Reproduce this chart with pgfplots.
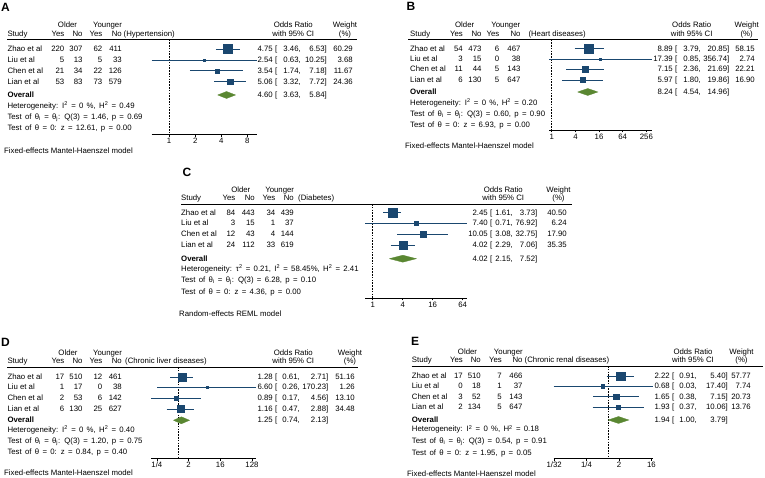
\documentclass[border=0pt]{standalone}
\usepackage{fontspec}
\setmainfont{Liberation Sans}
\usepackage{pgfplots}
\pgfplotsset{compat=1.18}
\definecolor{navy}{RGB}{26,71,111}
\definecolor{dgreen}{RGB}{90,135,50}
\newcommand{\fs}{\fontsize{7.8}{9}\selectfont}
\newcommand{\Lt}[3]{\node[anchor=mid west] at (#1,#2) {#3};}
\newcommand{\Rt}[3]{\node[anchor=mid east] at (#1,#2) {#3};}
\newcommand{\Ct}[3]{\node[anchor=mid] at (#1,#2) {#3};}
\newcommand{\St}[3]{\node[anchor=mid west] at (#1,#2) {\spaceskip=3.3pt plus 0pt minus 0pt\relax #3};}
\newcommand{\trow}[6]{\Lt{\tS}{#1}{#2}\Rt{\tA}{#1}{#3}\Rt{\tB}{#1}{#4}\Rt{\tC}{#1}{#5}\Rt{\tD}{#1}{#6}}
\newcommand{\orow}[5]{\Rt{\tR}{#1}{#2}\Lt{\tBr}{#1}{[}\Rt{\tL}{#1}{#3,}\Rt{\tU}{#1}{#4]}\Rt{\tW}{#1}{#5}}
\newcommand{\head}[2]{%
 \pgfmathsetmacro\ya{#1-14.5}\pgfmathsetmacro\yb{#1-6}%
 \Ct{\tOld}{\ya}{Older}\Ct{\tYng}{\ya}{Younger}%
 \Lt{\tS}{\yb}{Study}\Rt{\tA}{\yb}{Yes}\Rt{\tB}{\yb}{No}\Rt{\tC}{\yb}{Yes}\Rt{\tD}{\yb}{No}\Lt{\tDis}{\yb}{#2}%
 \Ct{\tOR}{\ya}{Odds Ratio}\Ct{\tOR}{\yb}{with 95\% CI}\Ct{\tWt}{\ya}{Weight}\Ct{\tWt}{\yb}{(\%)}%
 \draw[line width=0.8pt] (\tRa,#1) -- (\tRb,#1);}
\newcommand{\thij}{θ\textsubscript{i} = θ\textsubscript{j}}
\newcommand{\Isq}{I\textsuperscript{2}}
\newcommand{\Hsq}{H\textsuperscript{2}}
\pgfplotsset{
 fpax/.style={scale only axis, anchor=south west,
   axis x line*=bottom, axis y line=none, axis line style={-, line width=0.6pt},
   clip=false, tick align=outside, major tick length=2.5pt, minor xtick={},
   xtick style={line width=0.6pt, black}, xticklabel style={font=\fs, inner sep=1pt},
   /pgf/number format/assume math mode=true},
 ci/.style={navy, line width=0.9pt, mark=none, forget plot},
 sq/.style={navy, only marks, mark=square*, mark options={solid, line width=0.1pt, fill=navy, draw=navy}},
 dia/.style={fill=dgreen, draw=dgreen, line width=0.3pt, mark=none},
 dline/.style={black, line width=0.8pt, dash pattern=on 1.6pt off 1.2pt, mark=none},
}
\begin{document}
\begin{tikzpicture}
\path[use as bounding box] (0,0) rectangle (765pt,478pt);
\begin{scope}[x=1pt,y=-1pt,shift={(0pt,478pt)},every node/.style={inner sep=0pt,font=\fs}]
% panel labels
\node[anchor=mid west,font=\fontsize{12}{14}\selectfont\bfseries] at (1,8.7) {A};
\node[anchor=mid west,font=\fontsize{12}{14}\selectfont\bfseries] at (406.5,7.5) {B};
\node[anchor=mid west,font=\fontsize{12}{14}\selectfont\bfseries] at (182.5,174) {C};
\node[anchor=mid west,font=\fontsize{12}{14}\selectfont\bfseries] at (1,343.8) {D};
\node[anchor=mid west,font=\fontsize{12}{14}\selectfont\bfseries] at (411,343) {E};
% ---------- A
\def\tS{7.3}\def\tA{64.5}\def\tB{82.7}\def\tC{102.5}\def\tD{122}\def\tDis{123.5}
\def\tOld{67.5}\def\tYng{107.5}\def\tOR{293.3}\def\tWt{345}\def\tRa{7}\def\tRb{357}
\def\tR{273}\def\tBr{275}\def\tL{301}\def\tU{327}\def\tW{353}
\head{39.5}{(Hypertension)}
\trow{49}{Zhao et al}{220}{307}{62}{411}\orow{49}{4.75}{3.46}{6.53}{60.29}
\trow{60}{Liu et al}{5}{13}{5}{33}\orow{60}{2.54}{0.63}{10.25}{3.68}
\trow{70.7}{Chen et al}{21}{34}{22}{126}\orow{70.7}{3.54}{1.74}{7.18}{11.67}
\trow{81.5}{Lian et al}{53}{83}{73}{579}\orow{81.5}{5.06}{3.32}{7.72}{24.36}
\Lt{\tS}{95}{\textbf{Overall}}\orow{95}{4.60}{3.63}{5.84}{}
\St{\tS}{105.5}{Heterogeneity: \Isq{} = 0 \%, \Hsq{} = 0.49}
\St{\tS}{117}{Test of \thij: Q(3) = 1.46, p = 0.69}
\St{\tS}{128}{Test of θ = 0: z = 12.61, p = 0.00}
\Lt{4}{150.7}{Fixed-effects Mantel-Haenszel model}
% ---------- B
\def\tS{410}\def\tA{463}\def\tB{481.7}\def\tC{499.5}\def\tD{520.7}\def\tDis{528.3}
\def\tOld{464.7}\def\tYng{505.8}\def\tOR{691.7}\def\tWt{746.7}\def\tRa{408}\def\tRb{758}
\def\tR{673}\def\tBr{675}\def\tL{701}\def\tU{729.5}\def\tW{755}
\head{39.5}{(Heart diseases)}
\trow{48.5}{Zhao et al}{54}{473}{6}{467}\orow{48.5}{8.89}{3.79}{20.85}{58.15}
\trow{59}{Liu et al}{3}{15}{0}{38}\orow{59}{17.39}{0.85}{356.74}{2.74}
\trow{69.3}{Chen et al}{11}{44}{5}{143}\orow{69.3}{7.15}{2.36}{21.69}{22.21}
\trow{80}{Lian et al}{6}{130}{5}{647}\orow{80}{5.97}{1.80}{19.86}{16.90}
\Lt{\tS}{92}{\textbf{Overall}}\orow{92}{8.24}{4.54}{14.96}{}
\St{\tS}{102.7}{Heterogeneity: \Isq{} = 0 \%, \Hsq{} = 0.20}
\St{\tS}{113.5}{Test of \thij: Q(3) = 0.60, p = 0.90}
\St{\tS}{124.7}{Test of θ = 0: z = 6.93, p = 0.00}
\Lt{405}{146}{Fixed-effects Mantel-Haenszel model}
% ---------- C
\def\tS{181}\def\tA{235.5}\def\tB{255}\def\tC{275.5}\def\tD{294}\def\tDis{298}
\def\tOld{240.8}\def\tYng{279.7}\def\tOR{503.3}\def\tWt{558.5}\def\tRa{181}\def\tRb{572}
\def\tR{488}\def\tBr{490}\def\tL{513}\def\tU{537.5}\def\tW{567}
\head{204}{(Diabetes)}
\trow{212.5}{Zhao et al}{84}{443}{34}{439}\orow{212.5}{2.45}{1.61}{3.73}{40.50}
\trow{223}{Liu et al}{3}{15}{1}{37}\orow{223}{7.40}{0.71}{76.92}{6.24}
\trow{234}{Chen et al}{12}{43}{4}{144}\orow{234}{10.05}{3.08}{32.75}{17.90}
\trow{245.3}{Lian et al}{24}{112}{33}{619}\orow{245.3}{4.02}{2.29}{7.06}{35.35}
\Lt{\tS}{258.7}{\textbf{Overall}}\orow{258.7}{4.02}{2.15}{7.52}{}
\St{\tS}{268.7}{Heterogeneity: τ\textsuperscript{2} = 0.21, \Isq{} = 58.45\%, \Hsq{} = 2.41}
\St{\tS}{280}{Test of \thij: Q(3) = 6.28, p = 0.10}
\St{\tS}{291.8}{Test of θ = 0: z = 4.36, p = 0.00}
\Lt{179}{314}{Random-effects REML model}
% ---------- D
\def\tS{7.3}\def\tA{64.5}\def\tB{82.7}\def\tC{102.5}\def\tD{122}\def\tDis{125}
\def\tOld{68}\def\tYng{107.5}\def\tOR{293.3}\def\tWt{350}\def\tRa{7}\def\tRb{358}
\def\tR{273}\def\tBr{275}\def\tL{300}\def\tU{328.5}\def\tW{355}
\head{367}{(Chronic liver diseases)}
\trow{377}{Zhao et al}{17}{510}{12}{461}\orow{377}{1.28}{0.61}{2.71}{51.16}
\trow{387.3}{Liu et al}{1}{17}{0}{38}\orow{387.3}{6.60}{0.26}{170.23}{1.26}
\trow{398.2}{Chen et al}{2}{53}{6}{142}\orow{398.2}{0.89}{0.17}{4.56}{13.10}
\trow{409}{Lian et al}{6}{130}{25}{627}\orow{409}{1.16}{0.47}{2.88}{34.48}
\Lt{\tS}{420.3}{\textbf{Overall}}\orow{420.3}{1.25}{0.74}{2.13}{}
\St{\tS}{430}{Heterogeneity: \Isq{} = 0 \%, \Hsq{} = 0.40}
\St{\tS}{440.7}{Test of \thij: Q(3) = 1.20, p = 0.75}
\St{\tS}{451.7}{Test of θ = 0: z = 0.84, p = 0.40}
\Lt{4}{473}{Fixed-effects Mantel-Haenszel model}
% ---------- E
\def\tS{411.7}\def\tA{463}\def\tB{481}\def\tC{502}\def\tD{522.7}\def\tDis{524.5}
\def\tOld{467.5}\def\tYng{508.3}\def\tOR{693}\def\tWt{741.5}\def\tRa{411.7}\def\tRb{763}
\def\tR{670}\def\tBr{672}\def\tL{697}\def\tU{728}\def\tW{751}
\head{366}{(Chronic renal diseases)}
\trow{376}{Zhao et al}{17}{510}{7}{466}\orow{376}{2.22}{0.91}{5.40}{57.77}
\trow{386}{Liu et al}{0}{18}{1}{37}\orow{386}{0.68}{0.03}{17.40}{7.74}
\trow{396.5}{Chen et al}{3}{52}{5}{143}\orow{396.5}{1.65}{0.38}{7.15}{20.73}
\trow{407.2}{Lian et al}{2}{134}{5}{647}\orow{407.2}{1.93}{0.37}{10.06}{13.76}
\Lt{\tS}{420}{\textbf{Overall}}\orow{420}{1.94}{1.00}{3.79}{}
\St{\tS}{429.3}{Heterogeneity: \Isq{} = 0 \%, \Hsq{} = 0.18}
\St{\tS}{440.7}{Test of \thij: Q(3) = 0.54, p = 0.91}
\St{\tS}{452.5}{Test of θ = 0: z = 1.95, p = 0.05}
\Lt{407}{473.5}{Fixed-effects Mantel-Haenszel model}
\end{scope}
% ================= AXES
% A
\begin{axis}[fpax, xmode=log, log basis x=2, at={(151.7pt,343.5pt)}, width=105pt, height=95pt,
  xmin=0.63, xmax=10.25, ymin=-134.5, ymax=-39.5,
  xtick={1,2,4,8}, xticklabels={1,2,4,8}]
\addplot[dline] coordinates {(1,-39.5) (1,-134.5)};
\addplot[ci] coordinates {(3.46,-49) (6.53,-49)};
\addplot[sq, mark size=4.5] coordinates {(4.75,-49)};
\addplot[ci] coordinates {(0.63,-60) (10.25,-60)};
\addplot[sq, mark size=1.1] coordinates {(2.54,-60)};
\addplot[ci] coordinates {(1.74,-70.7) (7.18,-70.7)};
\addplot[sq, mark size=2.0] coordinates {(3.54,-70.7)};
\addplot[ci] coordinates {(3.32,-81.5) (7.72,-81.5)};
\addplot[sq, mark size=2.86] coordinates {(5.06,-81.5)};
\addplot[dia] coordinates {(3.63,-95) (4.60,-91.5) (5.84,-95) (4.60,-98.5) (3.63,-95)};
\end{axis}
% B
\begin{axis}[fpax, xmode=log, log basis x=2, at={(549pt,348pt)}, width=103pt, height=90.5pt,
  xmin=0.85, xmax=356.74, ymin=-130, ymax=-39.5,
  xtick={1,4,16,64,256}, xticklabels={1,4,16,64,256}]
\addplot[dline] coordinates {(1,-39.5) (1,-130)};
\addplot[ci] coordinates {(3.79,-48.5) (20.85,-48.5)};
\addplot[sq, mark size=4.5] coordinates {(8.89,-48.5)};
\addplot[ci] coordinates {(0.85,-59) (356.74,-59)};
\addplot[sq, mark size=1.0] coordinates {(17.39,-59)};
\addplot[ci] coordinates {(2.36,-69.3) (21.69,-69.3)};
\addplot[sq, mark size=2.8] coordinates {(7.15,-69.3)};
\addplot[ci] coordinates {(1.80,-80) (19.86,-80)};
\addplot[sq, mark size=2.45] coordinates {(5.97,-80)};
\addplot[dia] coordinates {(4.54,-92) (8.24,-88.5) (14.96,-92) (8.24,-95.5) (4.54,-92)};
\end{axis}
% C
\begin{axis}[fpax, xmode=log, log basis x=2, at={(365.3pt,180pt)}, width=101.4pt, height=94pt,
  xmin=0.71, xmax=76.92, ymin=-298, ymax=-204,
  xtick={1,4,16,64}, xticklabels={1,4,16,64}]
\addplot[dline] coordinates {(1,-204) (1,-298)};
\addplot[ci] coordinates {(1.61,-212.5) (3.73,-212.5)};
\addplot[sq, mark size=4.5] coordinates {(2.45,-212.5)};
\addplot[ci] coordinates {(0.71,-223) (76.92,-223)};
\addplot[sq, mark size=1.8] coordinates {(7.40,-223)};
\addplot[ci] coordinates {(3.08,-234) (32.75,-234)};
\addplot[sq, mark size=3.0] coordinates {(10.05,-234)};
\addplot[ci] coordinates {(2.29,-245.3) (7.06,-245.3)};
\addplot[sq, mark size=4.2] coordinates {(4.02,-245.3)};
\addplot[dia] coordinates {(2.15,-258.7) (4.02,-255.2) (7.52,-258.7) (4.02,-262.2) (2.15,-258.7)};
\end{axis}
% D
\begin{axis}[fpax, xmode=log, log basis x=2, at={(151pt,19.5pt)}, width=105.3pt, height=91.5pt,
  xmin=0.17, xmax=170.23, ymin=-458.5, ymax=-367,
  xtick={0.25,2,16,128}, xticklabels={1/4,2,16,128}]
\addplot[dline] coordinates {(1,-367) (1,-458.5)};
\addplot[ci] coordinates {(0.61,-377) (2.71,-377)};
\addplot[sq, mark size=4.2] coordinates {(1.28,-377)};
\addplot[ci] coordinates {(0.26,-387.3) (170.23,-387.3)};
\addplot[sq, mark size=0.8] coordinates {(6.60,-387.3)};
\addplot[ci] coordinates {(0.17,-398.2) (4.56,-398.2)};
\addplot[sq, mark size=2.15] coordinates {(0.89,-398.2)};
\addplot[ci] coordinates {(0.47,-409) (2.88,-409)};
\addplot[sq, mark size=3.5] coordinates {(1.16,-409)};
\addplot[dia] coordinates {(0.74,-420.3) (1.25,-416.8) (2.13,-420.3) (1.25,-423.8) (0.74,-420.3)};
\end{axis}
% E
\begin{axis}[fpax, xmode=log, log basis x=2, at={(553.5pt,19.5pt)}, width=99.2pt, height=92.5pt,
  xmin=0.03, xmax=17.40, ymin=-458.5, ymax=-366,
  xtick={0.03125,0.25,2,16}, xticklabels={1/32,1/4,2,16}]
\addplot[dline] coordinates {(1,-366) (1,-458.5)};
\addplot[ci] coordinates {(0.91,-376) (5.40,-376)};
\addplot[sq, mark size=4.3] coordinates {(2.22,-376)};
\addplot[ci] coordinates {(0.03,-386) (17.40,-386)};
\addplot[sq, mark size=1.6] coordinates {(0.68,-386)};
\addplot[ci] coordinates {(0.38,-396.5) (7.15,-396.5)};
\addplot[sq, mark size=2.6] coordinates {(1.65,-396.5)};
\addplot[ci] coordinates {(0.37,-407.2) (10.06,-407.2)};
\addplot[sq, mark size=2.1] coordinates {(1.93,-407.2)};
\addplot[dia] coordinates {(1.00,-420) (1.94,-416.5) (3.79,-420) (1.94,-423.5) (1.00,-420)};
\end{axis}
\end{tikzpicture}
\end{document}
